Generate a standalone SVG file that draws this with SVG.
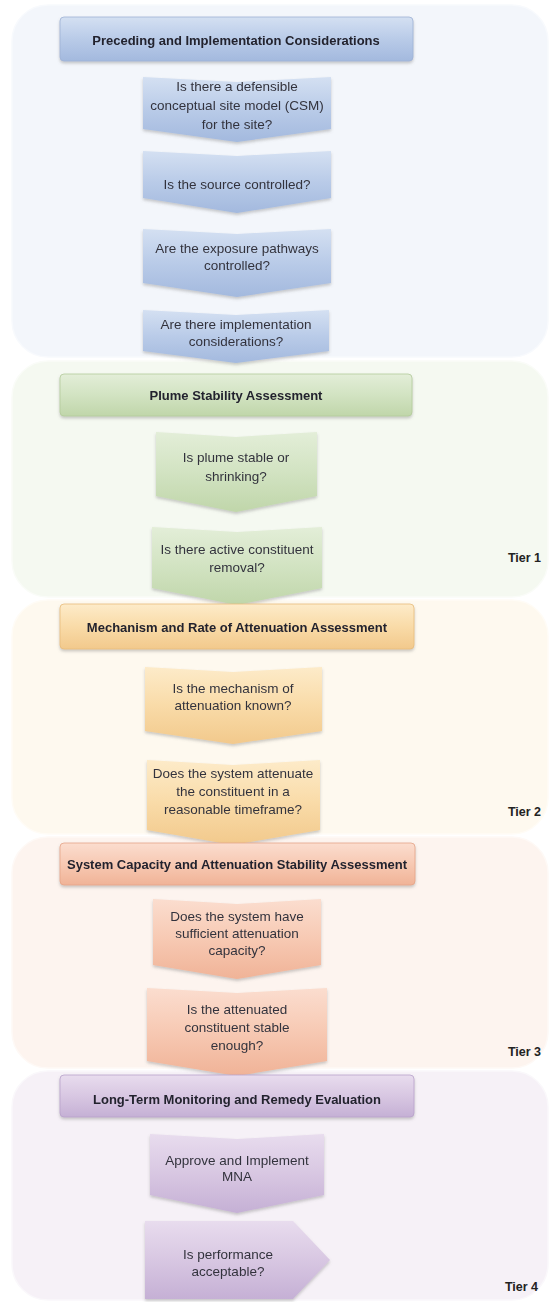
<svg xmlns="http://www.w3.org/2000/svg" width="555" height="1302" viewBox="0 0 555 1302">
<style>
.hdr{font-family:"Liberation Sans",Arial,sans-serif;font-size:13px;font-weight:bold;fill:#23232e;text-anchor:middle}
.txt{font-family:"Liberation Sans",Arial,sans-serif;font-size:13.5px;fill:#33333d;text-anchor:middle}
.tier{font-family:"Liberation Sans",Arial,sans-serif;font-size:12.5px;font-weight:bold;fill:#222;text-anchor:end}
.sec{stroke-width:1.5}
.box{filter:url(#sh)}
</style>
<defs>
<filter id="sh" x="-10%" y="-10%" width="120%" height="130%">
<feDropShadow dx="0" dy="2" stdDeviation="1.8" flood-color="#6a6a6a" flood-opacity="0.35"/>
</filter>
<linearGradient id="gB" x1="0" y1="0" x2="0" y2="1"><stop offset="0" stop-color="#d4e0f2"/><stop offset="0.5" stop-color="#b9cbe8"/><stop offset="1" stop-color="#a3b9de"/></linearGradient>
<linearGradient id="gG" x1="0" y1="0" x2="0" y2="1"><stop offset="0" stop-color="#e3eed8"/><stop offset="0.5" stop-color="#d2e3c2"/><stop offset="1" stop-color="#c0d6aa"/></linearGradient>
<linearGradient id="gO" x1="0" y1="0" x2="0" y2="1"><stop offset="0" stop-color="#fdebc9"/><stop offset="0.5" stop-color="#f9dba8"/><stop offset="1" stop-color="#f2c98c"/></linearGradient>
<linearGradient id="gS" x1="0" y1="0" x2="0" y2="1"><stop offset="0" stop-color="#fbddcf"/><stop offset="0.5" stop-color="#f7c9b3"/><stop offset="1" stop-color="#f0b397"/></linearGradient>
<linearGradient id="gP" x1="0" y1="0" x2="0" y2="1"><stop offset="0" stop-color="#e8dcee"/><stop offset="0.5" stop-color="#d8c7e2"/><stop offset="1" stop-color="#c5b0d5"/></linearGradient>
</defs>

<g id="sections">
<rect id="sec1" class="sec" x="12" y="5" width="536" height="352" rx="36" fill="#f3f6fb" stroke="#f8fafd"/>
<rect id="sec2" class="sec" x="12" y="361" width="536" height="236" rx="36" fill="#f5f9f1" stroke="#fafcf8"/>
<rect id="sec3" class="sec" x="12" y="600" width="536" height="234" rx="36" fill="#fef9ef" stroke="#fffcf6"/>
<rect id="sec4" class="sec" x="12" y="837" width="536" height="231" rx="36" fill="#fdf4ef" stroke="#fef9f6"/>
<rect id="sec5" class="sec" x="12" y="1071" width="536" height="229" rx="36" fill="#f6f1f7" stroke="#faf8fb"/>
</g>

<g id="connectors"/>

<g id="tier1-block">
<g id="h1" class="box"><rect x="60" y="17" width="353" height="44" rx="4" fill="url(#gB)" stroke="#9fb3d6" stroke-width="0.8"/><text class="hdr" x="236" y="45">Preceding and Implementation Considerations</text></g>
<g id="b1" class="box"><polygon points="143,77 237,82 331,77 331,129 237,142 143,129" fill="url(#gB)"/>
<text class="txt" x="237" y="91">Is there a defensible</text><text class="txt" x="237" y="110">conceptual site model (CSM)</text><text class="txt" x="237" y="129">for the site?</text></g>
<g id="b2" class="box"><polygon points="143,151 237,156 331,151 331,198 237,213 143,198" fill="url(#gB)"/>
<text class="txt" x="237" y="189">Is the source controlled?</text></g>
<g id="b3" class="box"><polygon points="143,229 237,234 331,229 331,283 237,297 143,283" fill="url(#gB)"/>
<text class="txt" x="237" y="253">Are the exposure pathways</text><text class="txt" x="237" y="270">controlled?</text></g>
<g id="b4" class="box"><polygon points="143,310 236,315 329,310 329,351 236,363 143,351" fill="url(#gB)"/>
<text class="txt" x="236" y="329">Are there implementation</text><text class="txt" x="236" y="346">considerations?</text></g>
</g>

<g id="tier2-block">
<g id="h2" class="box"><rect x="60" y="374" width="352" height="42" rx="4" fill="url(#gG)" stroke="#b4cc9c" stroke-width="0.8"/><text class="hdr" x="236" y="400">Plume Stability Assessment</text></g>
<g id="g1" class="box"><polygon points="156,432 236,437 317,432 317,496 236,512 156,496" fill="url(#gG)"/>
<text class="txt" x="236" y="462">Is plume stable or</text><text class="txt" x="236" y="481">shrinking?</text></g>
<g id="g2" class="box"><polygon points="152,527 237,532 322,527 322,588 237,605 152,588" fill="url(#gG)"/>
<text class="txt" x="237" y="554">Is there active constituent</text><text class="txt" x="237" y="572">removal?</text></g>
<text id="tier1" class="tier" x="541" y="562">Tier 1</text>
</g>

<g id="tier3-block">
<g id="h3" class="box"><rect x="60" y="604" width="354" height="45" rx="4" fill="url(#gO)" stroke="#e9bd7c" stroke-width="0.8"/><text class="hdr" x="237" y="632">Mechanism and Rate of Attenuation Assessment</text></g>
<g id="o1" class="box"><polygon points="145,667 233,672 322,667 322,731 233,744 145,731" fill="url(#gO)"/>
<text class="txt" x="233" y="693">Is the mechanism of</text><text class="txt" x="233" y="710">attenuation known?</text></g>
<g id="o2" class="box"><polygon points="147,760 233,765 320,760 320,830 233,845 147,830" fill="url(#gO)"/>
<text class="txt" x="233" y="778">Does the system attenuate</text><text class="txt" x="233" y="796">the constituent in a</text><text class="txt" x="233" y="814">reasonable timeframe?</text></g>
<text id="tier2" class="tier" x="541" y="816">Tier 2</text>
</g>

<g id="tier4-block">
<g id="h4" class="box"><rect x="60" y="843" width="355" height="42" rx="4" fill="url(#gS)" stroke="#e6a588" stroke-width="0.8"/><text class="hdr" x="237" y="869">System Capacity and Attenuation Stability Assessment</text></g>
<g id="s1" class="box"><polygon points="153,899 237,904 321,899 321,965 237,979 153,965" fill="url(#gS)"/>
<text class="txt" x="237" y="921">Does the system have</text><text class="txt" x="237" y="938">sufficient attenuation</text><text class="txt" x="237" y="955">capacity?</text></g>
<g id="s2" class="box"><polygon points="147,988 237,993 327,988 327,1061 237,1076 147,1061" fill="url(#gS)"/>
<text class="txt" x="237" y="1014">Is the attenuated</text><text class="txt" x="237" y="1032">constituent stable</text><text class="txt" x="237" y="1050">enough?</text></g>
<text id="tier3" class="tier" x="541" y="1056">Tier 3</text>
</g>

<g id="tier5-block">
<g id="h5" class="box"><rect x="60" y="1075" width="354" height="42" rx="4" fill="url(#gP)" stroke="#b9a2cb" stroke-width="0.8"/><text class="hdr" x="237" y="1104">Long-Term Monitoring and Remedy Evaluation</text></g>
<g id="p1" class="box"><polygon points="150,1134 237,1139 324,1134 324,1195 237,1213 150,1195" fill="url(#gP)"/>
<text class="txt" x="237" y="1165">Approve and Implement</text><text class="txt" x="237" y="1181">MNA</text></g>
<g id="p2" class="box"><polygon points="145,1221 293,1221 330,1260 293,1299 145,1299" fill="url(#gP)"/>
<text class="txt" x="228" y="1259">Is performance</text><text class="txt" x="228" y="1276">acceptable?</text></g>
<text id="tier4" class="tier" x="538" y="1291">Tier 4</text>
</g>
</svg>
